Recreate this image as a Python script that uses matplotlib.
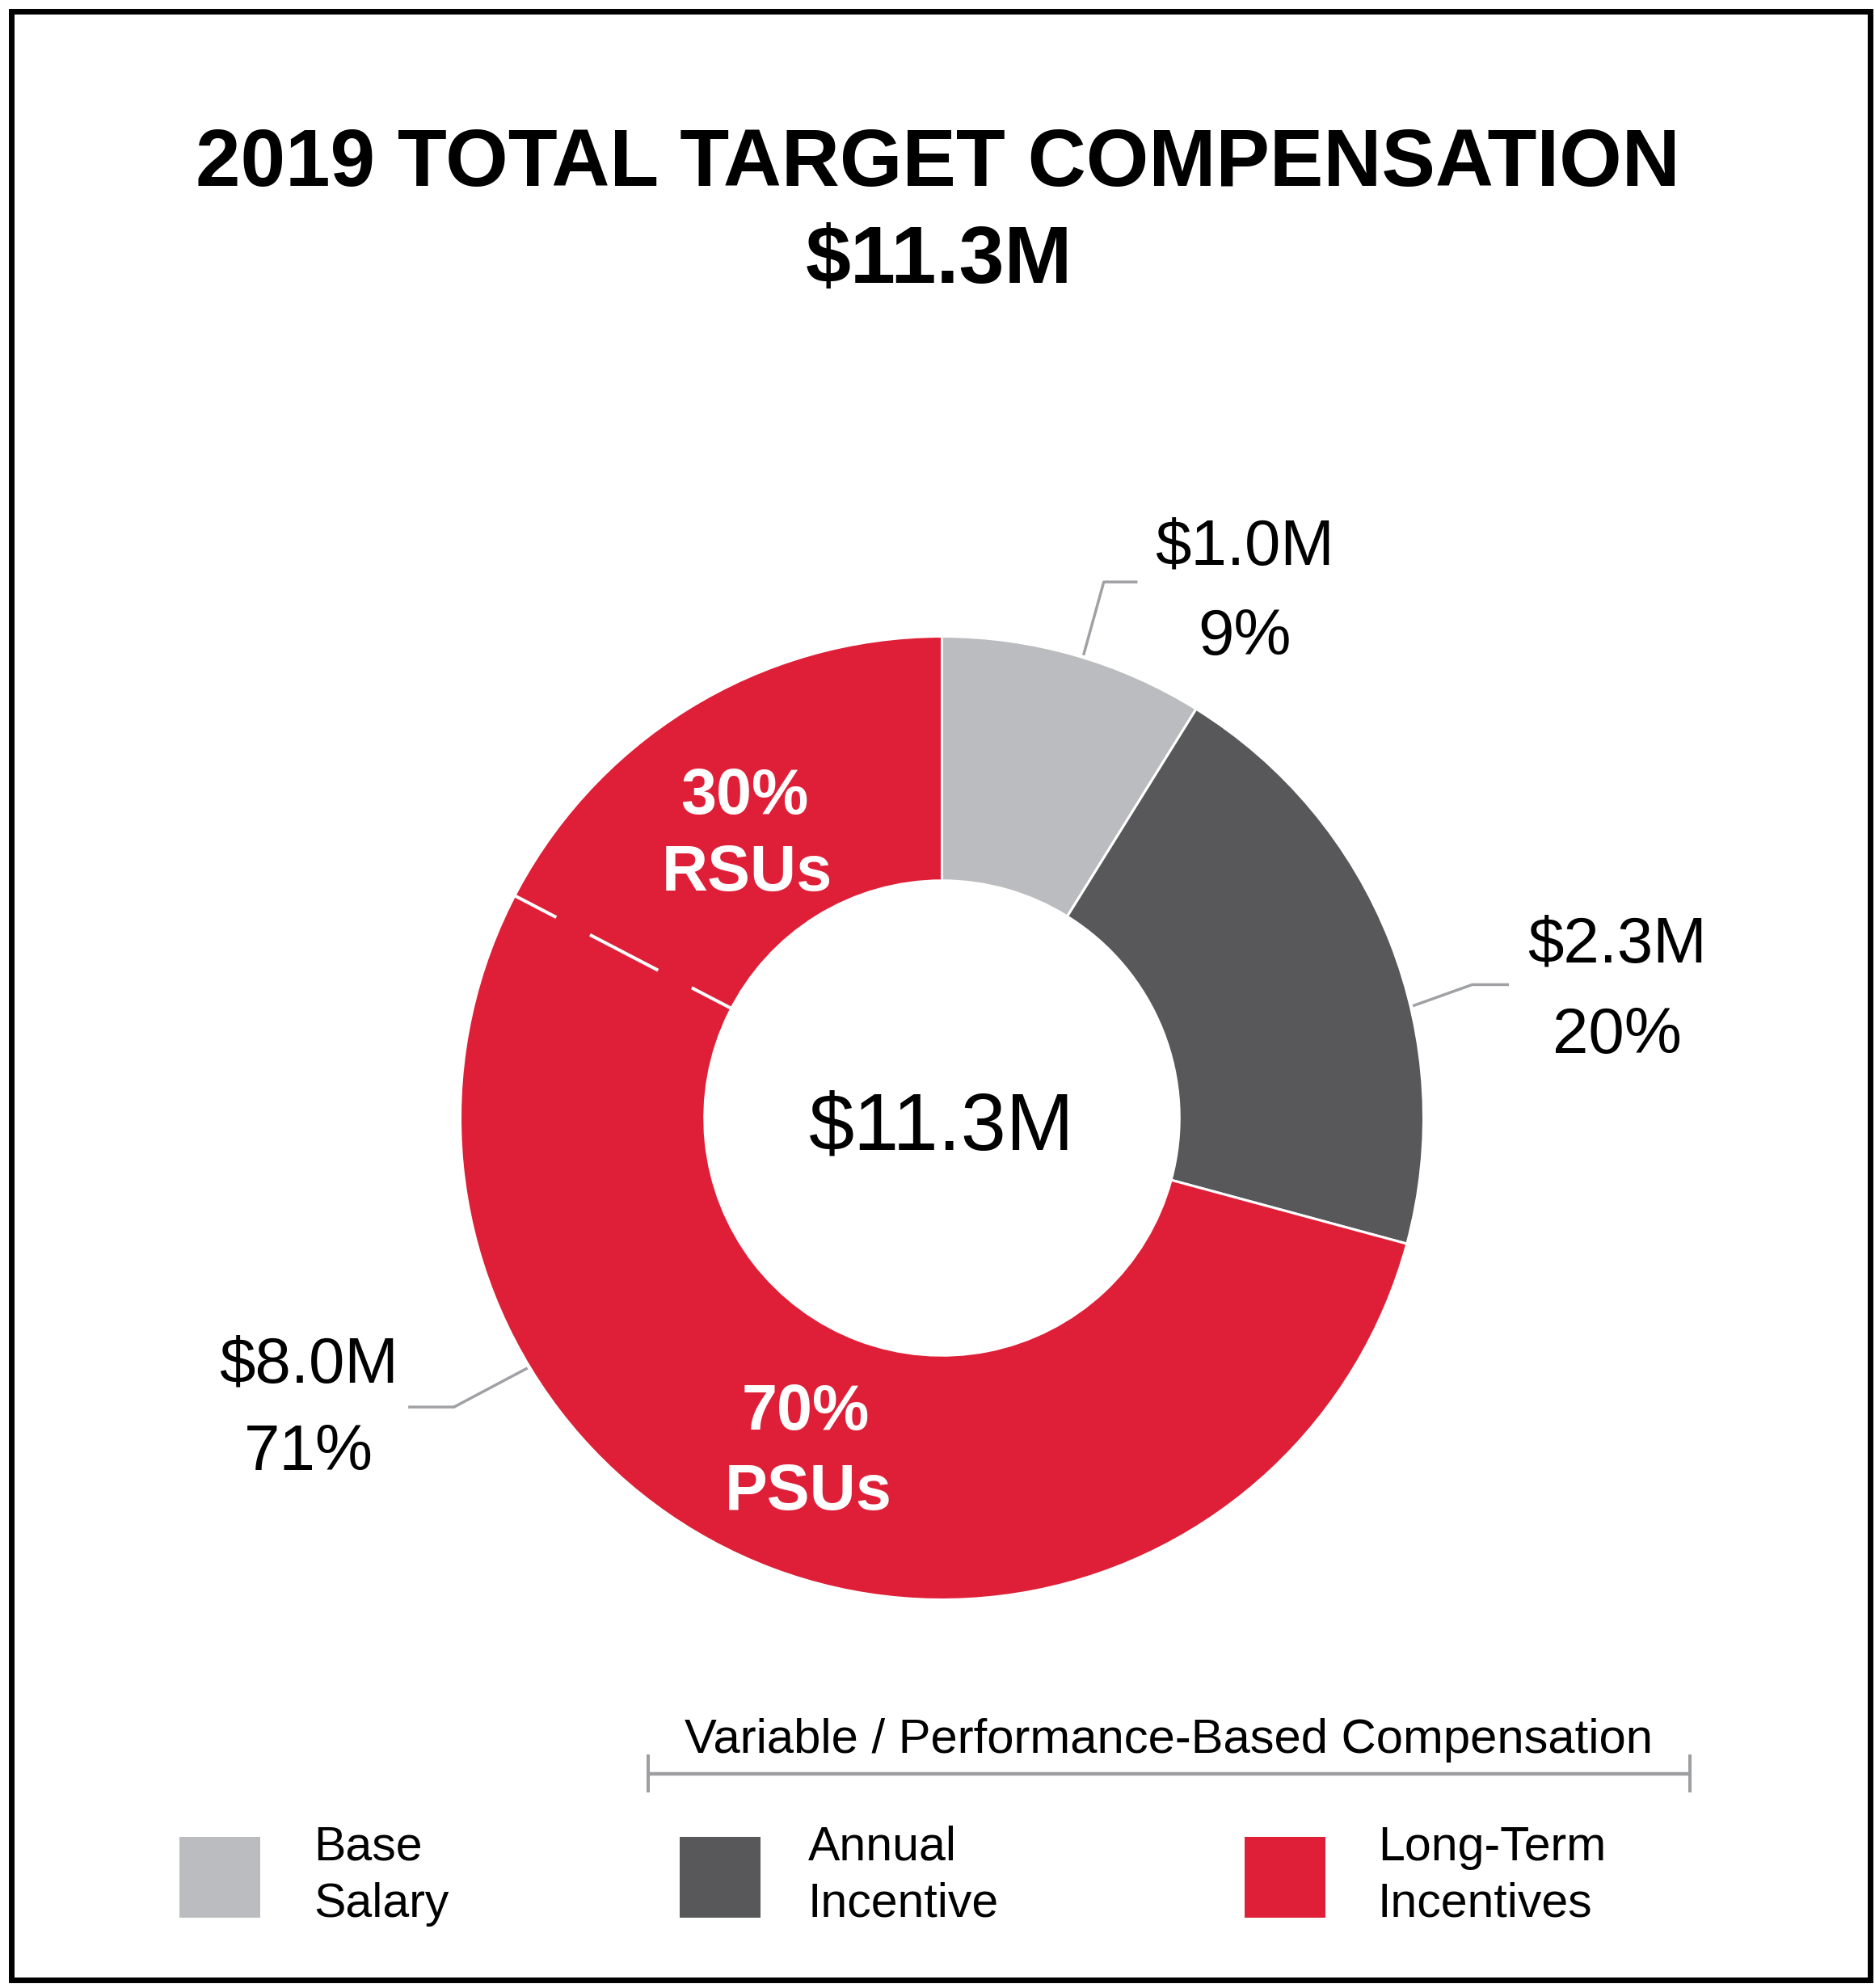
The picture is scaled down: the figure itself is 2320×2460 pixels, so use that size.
import matplotlib
matplotlib.use("Agg")
import matplotlib.pyplot as plt
from matplotlib.patches import Rectangle
from matplotlib.lines import Line2D
import numpy as np

# ---------------- data ----------------
categories = ["Base Salary", "Annual Incentive", "Long-Term Incentives"]
legend_line1 = ["Base", "Annual", "Long-Term"]
legend_line2 = ["Salary", "Incentive", "Incentives"]
values_musd = [1.0, 2.3, 8.0]
value_labels = ["$1.0M", "$2.3M", "$8.0M"]
pct_labels = ["9%", "20%", "71%"]
lti_split_pct = ["30%", "70%"]
lti_split_names = ["RSUs", "PSUs"]
total_label = "$11.3M"
title_line1 = "2019 TOTAL TARGET COMPENSATION"
title_line2 = "$11.3M"
bracket_label = "Variable / Performance-Based Compensation"
colors = ["#BBBCBF", "#58585A", "#DF1F37"]

# ---------------- layout ----------------
W, H, DPI = 2320, 2460, 100
plt.rcParams['font.family'] = ['Liberation Sans', 'DejaVu Sans']

def fx(x):
    return x / W

def fy(y):
    return 1 - y / H

fig = plt.figure(figsize=(W / DPI, H / DPI), dpi=DPI)
fig.patch.set_facecolor("white")

# pie axes: centre (1165.5, 1383.5) px, outer radius ~595 px
cx, cy, R = 1165.5, 1383.5, 596.0
ax = fig.add_axes([fx(cx - R), fy(cy + R), 2 * R / W, 2 * R / H])
inner_frac = 293.0 / 594.5
ax.pie(values_musd, colors=colors, startangle=90, counterclock=False, radius=1.0,
       wedgeprops=dict(width=1 - inner_frac, edgecolor="white", linewidth=2.2))
ax.set_xlim(-1, 1)
ax.set_ylim(-1, 1)
ax.set_aspect("equal")
ax.axis("off")

# RSU / PSU divider (dashed white)
div_deg = 152.5
t = np.deg2rad(div_deg)
r0, r1 = 1.0, inner_frac
lw_div = 2.9
ax.plot([r0 * np.cos(t), r1 * np.cos(t)], [r0 * np.sin(t), r1 * np.sin(t)],
        color="white", linewidth=lw_div, solid_capstyle="butt",
        linestyle=(26.6 / lw_div, (68.4 / lw_div, 33.8 / lw_div)), dash_capstyle="butt")

# leader lines
leader_anchor_deg = [73.0, 13.4, 211.1]
leader_elbow = [(0.336, 1.113), (1.101, 0.277), (-1.013, -0.600)]
leader_end = [(0.406, 1.113), (1.177, 0.277), (-1.108, -0.600)]
for a, e, n in zip(leader_anchor_deg, leader_elbow, leader_end):
    ar = np.deg2rad(a)
    ax.plot([1.005 * np.cos(ar), e[0], n[0]], [1.005 * np.sin(ar), e[1], n[1]],
            color="#A0A1A4", linewidth=2.5, solid_capstyle="butt", clip_on=False)

# outer value labels
lab_x = [0.628, 1.402, -1.314]
lab_y1 = [1.150, 0.323, -0.549]
lab_y2 = [0.962, 0.135, -0.731]
for v, p, x, y1, y2 in zip(value_labels, pct_labels, lab_x, lab_y1, lab_y2):
    ax.text(x, y1, v, ha="center", va="baseline", fontsize=57.5, color="black", clip_on=False)
    ax.text(x, y2, p, ha="center", va="baseline", fontsize=57.5, color="black", clip_on=False)

# inner LTI split labels
split_pos = [((-0.409, 0.632), (-0.404, 0.472)), ((-0.283, -0.646), (-0.278, -0.813))]
for pct, name, (p1, p2) in zip(lti_split_pct, lti_split_names, split_pos):
    ax.text(p1[0], p1[1], pct, ha="center", va="baseline", fontsize=57, fontweight="bold", color="white")
    ax.text(p2[0], p2[1], name, ha="center", va="baseline", fontsize=57, fontweight="bold", color="white")

# centre label
ax.text(0, -0.065, total_label, ha="center", va="baseline", fontsize=72.5, color="black")

# title
fig.text(fx(1160.5), fy(230), title_line1, ha="center", va="baseline", fontsize=71.8,
         fontweight="bold", color="black")
fig.text(fx(1162), fy(350), title_line2, ha="center", va="baseline", fontsize=72.5,
         fontweight="bold", color="black")

# bracket for variable compensation
bcol = "#9D9EA1"
bx0, bx1, by = 802, 2091, 2195
fig.add_artist(Line2D([fx(bx0), fx(bx1)], [fy(by), fy(by)], transform=fig.transFigure,
                      color=bcol, linewidth=3.2, solid_capstyle="butt"))
for bx in (bx0, bx1):
    fig.add_artist(Line2D([fx(bx), fx(bx)], [fy(2171), fy(2218)], transform=fig.transFigure,
                          color=bcol, linewidth=2.9, solid_capstyle="butt"))
fig.text(fx(1446), fy(2169), bracket_label, ha="center", va="baseline", fontsize=43, color="black")

# legend
sq_x = [222, 841, 1540]
txt_x = [388, 1000, 1705]
for c, sx, tx, l1, l2 in zip(colors, sq_x, txt_x, legend_line1, legend_line2):
    fig.add_artist(Rectangle((fx(sx), fy(2373)), 100 / W, 100 / H, transform=fig.transFigure,
                             facecolor=c, edgecolor="none"))
    fig.text(fx(tx), fy(2302), l1, ha="left", va="baseline", fontsize=42.5, color="black")
    fig.text(fx(tx), fy(2372), l2, ha="left", va="baseline", fontsize=42.5, color="black")

# border
fig.add_artist(Rectangle((fx(13.5), fy(2450)), 2300 / W, 2436.5 / H, transform=fig.transFigure,
                         facecolor="none", edgecolor="black", linewidth=5.0))

fig.savefig("out.png", dpi=DPI, facecolor="white")
